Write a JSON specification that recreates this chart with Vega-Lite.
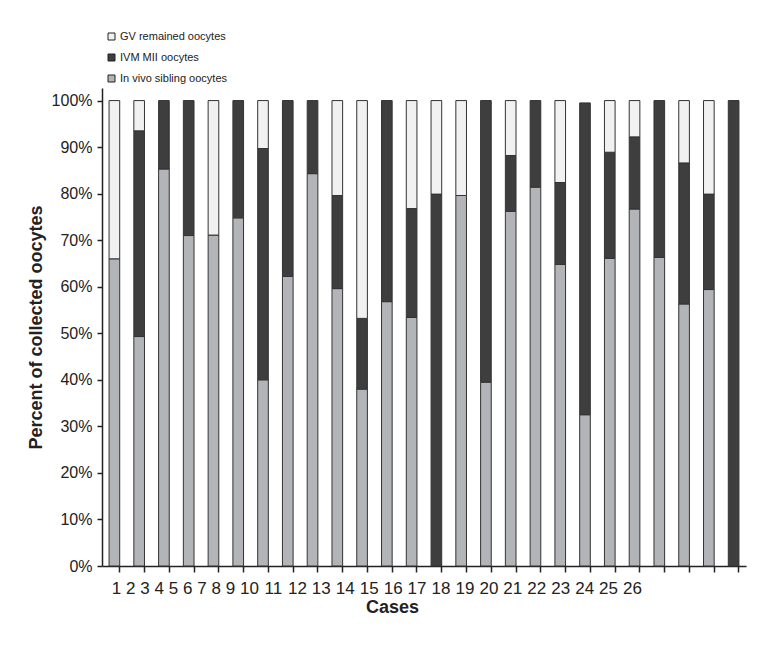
{
  "$schema": "https://vega.github.io/schema/vega-lite/v6.json",
  "width": 644,
  "height": 478,
  "autosize": "none",
  "padding": {"left": 102, "top": 88, "right": 25, "bottom": 89},
  "config": {"view": {"stroke": null}, "font": "Liberation Sans"},
  "data": {
    "values": [
      {"case": 1, "In vivo sibling oocytes": 66, "IVM MII oocytes": 0, "GV remained oocytes": 34},
      {"case": 2, "In vivo sibling oocytes": 49.3, "IVM MII oocytes": 44.2, "GV remained oocytes": 6.5},
      {"case": 3, "In vivo sibling oocytes": 85.3, "IVM MII oocytes": 14.7, "GV remained oocytes": 0},
      {"case": 4, "In vivo sibling oocytes": 71, "IVM MII oocytes": 29, "GV remained oocytes": 0},
      {"case": 5, "In vivo sibling oocytes": 71.1, "IVM MII oocytes": 0, "GV remained oocytes": 28.9},
      {"case": 6, "In vivo sibling oocytes": 74.8, "IVM MII oocytes": 25.2, "GV remained oocytes": 0},
      {"case": 7, "In vivo sibling oocytes": 40, "IVM MII oocytes": 49.7, "GV remained oocytes": 10.3},
      {"case": 8, "In vivo sibling oocytes": 62.2, "IVM MII oocytes": 37.8, "GV remained oocytes": 0},
      {"case": 9, "In vivo sibling oocytes": 84.3, "IVM MII oocytes": 15.7, "GV remained oocytes": 0},
      {"case": 10, "In vivo sibling oocytes": 59.6, "IVM MII oocytes": 20, "GV remained oocytes": 20.4},
      {"case": 11, "In vivo sibling oocytes": 38, "IVM MII oocytes": 15.2, "GV remained oocytes": 46.8},
      {"case": 12, "In vivo sibling oocytes": 56.8, "IVM MII oocytes": 43.2, "GV remained oocytes": 0},
      {"case": 13, "In vivo sibling oocytes": 53.4, "IVM MII oocytes": 23.4, "GV remained oocytes": 23.2},
      {"case": 14, "In vivo sibling oocytes": 0, "IVM MII oocytes": 79.9, "GV remained oocytes": 20.1},
      {"case": 15, "In vivo sibling oocytes": 79.6, "IVM MII oocytes": 0, "GV remained oocytes": 20.4},
      {"case": 16, "In vivo sibling oocytes": 39.5, "IVM MII oocytes": 60.5, "GV remained oocytes": 0},
      {"case": 17, "In vivo sibling oocytes": 76.2, "IVM MII oocytes": 12, "GV remained oocytes": 11.8},
      {"case": 18, "In vivo sibling oocytes": 81.4, "IVM MII oocytes": 18.6, "GV remained oocytes": 0},
      {"case": 19, "In vivo sibling oocytes": 64.8, "IVM MII oocytes": 17.6, "GV remained oocytes": 17.6},
      {"case": 20, "In vivo sibling oocytes": 32.5, "IVM MII oocytes": 67, "GV remained oocytes": 0},
      {"case": 21, "In vivo sibling oocytes": 66.1, "IVM MII oocytes": 22.8, "GV remained oocytes": 11.1},
      {"case": 22, "In vivo sibling oocytes": 76.7, "IVM MII oocytes": 15.5, "GV remained oocytes": 7.8},
      {"case": 23, "In vivo sibling oocytes": 66.3, "IVM MII oocytes": 33.7, "GV remained oocytes": 0},
      {"case": 24, "In vivo sibling oocytes": 56.3, "IVM MII oocytes": 30.3, "GV remained oocytes": 13.4},
      {"case": 25, "In vivo sibling oocytes": 59.4, "IVM MII oocytes": 20.5, "GV remained oocytes": 20.1},
      {"case": 26, "In vivo sibling oocytes": 0, "IVM MII oocytes": 100, "GV remained oocytes": 0}
    ]
  },
  "layer": [
    {
      "transform": [
        {"fold": ["In vivo sibling oocytes", "IVM MII oocytes", "GV remained oocytes"], "as": ["type", "pct"]},
        {"filter": "datum.pct > 0"}
      ],
      "mark": {"type": "bar", "stroke": "#333333", "strokeWidth": 1},
      "encoding": {
        "x": {
          "field": "case", "type": "ordinal",
          "scale": {"paddingInner": 0.57, "paddingOuter": 0.285},
          "axis": {"labels": false, "title": null, "bandPosition": 1, "tickSize": 6, "tickWidth": 1.5, "tickColor": "#222222", "domainWidth": 1.5, "domainColor": "#222222", "grid": false}
        },
        "y": {
          "field": "pct", "type": "quantitative", "stack": "zero",
          "scale": {"domain": [0, 102.7], "nice": false},
          "axis": {
            "values": [0, 10, 20, 30, 40, 50, 60, 70, 80, 90, 100],
            "labelExpr": "datum.value + '%'",
            "grid": false,
            "title": "Percent of collected oocytes",
            "titleFontSize": 18, "titleFontWeight": "bold", "titleColor": "#222222", "titlePadding": 6,
            "labelFontSize": 16, "labelColor": "#222222", "labelPadding": 5,
            "tickSize": 5, "tickWidth": 1.5, "tickColor": "#222222",
            "domainWidth": 1.5, "domainColor": "#222222"
          }
        },
        "color": {
          "field": "type", "type": "nominal",
          "scale": {"domain": ["GV remained oocytes", "IVM MII oocytes", "In vivo sibling oocytes"], "range": ["#f1f1f1", "#3e3e3e", "#b3b4b8"]},
          "legend": {
            "orient": "none", "legendX": 4, "legendY": -57, "title": null,
            "symbolType": "square", "symbolSize": 49, "symbolStrokeColor": "#222222", "symbolStrokeWidth": 1,
            "labelFontSize": 11, "labelOffset": 3, "rowPadding": 9, "padding": 0, "labelColor": "#222222"
          }
        },
        "order": {"field": "type", "sort": "descending"}
      }
    },
    {
      "mark": {"type": "point", "opacity": 0},
      "encoding": {
        "x": {
          "field": "case", "type": "quantitative",
          "scale": {"domain": [1, 9, 10, 26], "range": [14, 128, 147, 530], "nice": false, "zero": false},
          "axis": {
            "orient": "bottom",
            "values": [1, 2, 3, 4, 5, 6, 7, 8, 9, 10, 11, 12, 13, 14, 15, 16, 17, 18, 19, 20, 21, 22, 23, 24, 25, 26],
            "format": "d", "ticks": false, "tickSize": 0, "domain": false, "grid": false,
            "labelFontSize": 17, "labelColor": "#222222", "labelPadding": 14.5, "labelOverlap": false, "labelFlush": false,
            "title": "Cases", "titleFontSize": 18, "titleFontWeight": "bold", "titleColor": "#222222", "titleX": 290, "titlePadding": 1.5
          }
        }
      }
    }
  ],
  "resolve": {"scale": {"x": "independent"}, "axis": {"x": "independent"}}
}
